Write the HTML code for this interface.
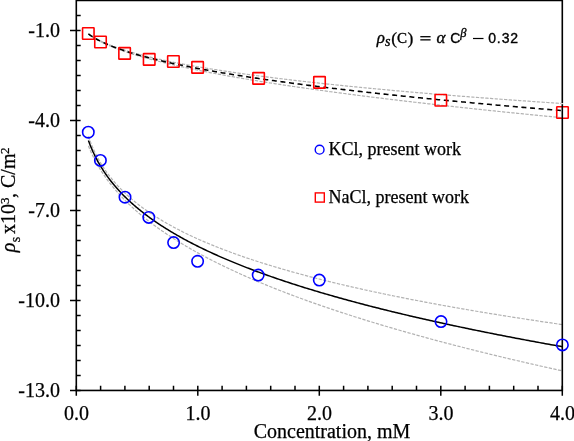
<!DOCTYPE html>
<html><head><meta charset="utf-8"><style>
html,body{margin:0;padding:0;background:#fff;}
svg{display:block;will-change:transform;}
</style></head><body>
<svg width="574" height="441" viewBox="0 0 574 441">
<rect width="574" height="441" fill="#fff"/>
<path d="M88.45,136.39 L88.48,136.48 L88.55,136.68 L88.64,136.94 L88.75,137.26 L88.88,137.63 L89.02,138.05 L89.18,138.50 L89.36,138.99 L89.54,139.51 L89.75,140.06 L89.96,140.64 L90.18,141.24 L90.42,141.87 L90.67,142.51 L90.93,143.17 L91.20,143.85 L91.48,144.55 L91.77,145.26 L92.07,145.98 L92.38,146.71 L92.70,147.46 L93.02,148.21 L93.36,148.97 L93.71,149.74 L94.06,150.52 L94.42,151.30 L94.80,152.08 L95.18,152.87 L95.57,153.67 L95.96,154.46 L96.37,155.26 L96.78,156.07 L97.20,156.87 L97.63,157.68 L98.06,158.48 L98.51,159.29 L98.96,160.09 L99.41,160.90 L99.88,161.71 L100.35,162.51 L100.83,163.32 L101.32,164.12 L101.81,164.92 L102.31,165.72 L102.82,166.52 L103.34,167.31 L103.86,168.11 L104.38,168.90 L104.92,169.69 L105.46,170.48 L106.01,171.26 L106.56,172.04 L107.12,172.82 L107.69,173.60 L108.26,174.37 L108.84,175.14 L109.43,175.91 L110.02,176.67 L110.62,177.43 L111.22,178.19 L111.83,178.94 L112.45,179.69 L113.07,180.44 L113.70,181.18 L114.33,181.93 L114.97,182.66 L115.62,183.40 L116.27,184.13 L116.93,184.86 L117.59,185.58 L118.26,186.30 L118.93,187.02 L119.61,187.73 L120.30,188.44 L120.99,189.15 L121.69,189.86 L122.39,190.56 L123.10,191.25 L123.81,191.95 L124.53,192.64 L125.26,193.33 L125.99,194.01 L126.72,194.69 L127.46,195.37 L128.21,196.04 L128.96,196.72 L129.71,197.38 L130.48,198.05 L131.24,198.71 L132.01,199.37 L132.79,200.03 L133.57,200.68 L134.36,201.33 L135.15,201.97 L135.95,202.62 L136.75,203.26 L137.56,203.90 L138.37,204.53 L139.19,205.16 L140.01,205.79 L140.84,206.42 L141.67,207.04 L142.51,207.66 L143.35,208.28 L144.20,208.89 L145.05,209.50 L145.91,210.11 L146.77,210.72 L147.64,211.32 L148.51,211.92 L149.38,212.52 L150.26,213.11 L151.15,213.71 L152.04,214.30 L152.94,214.88 L153.83,215.47 L154.74,216.05 L155.65,216.63 L156.56,217.21 L157.48,217.78 L158.40,218.35 L159.33,218.92 L160.26,219.49 L161.20,220.06 L162.14,220.62 L163.08,221.18 L164.03,221.74 L164.99,222.29 L165.95,222.85 L166.91,223.40 L167.88,223.95 L168.85,224.49 L169.83,225.04 L170.81,225.58 L171.79,226.12 L172.78,226.66 L173.78,227.19 L174.78,227.72 L175.78,228.26 L176.79,228.79 L177.80,229.31 L178.82,229.84 L179.84,230.36 L180.86,230.88 L181.89,231.40 L182.92,231.92 L183.96,232.43 L185.00,232.94 L186.05,233.46 L187.10,233.96 L188.15,234.47 L189.21,234.98 L190.27,235.48 L191.34,235.98 L192.41,236.48 L193.49,236.98 L194.57,237.47 L195.65,237.97 L196.74,238.46 L197.83,238.95 L198.93,239.44 L200.03,239.93 L201.13,240.41 L202.24,240.90 L203.35,241.38 L204.47,241.86 L205.59,242.34 L206.71,242.81 L207.84,243.29 L208.97,243.76 L210.11,244.23 L211.25,244.70 L212.39,245.17 L213.54,245.64 L214.69,246.10 L215.85,246.57 L217.01,247.03 L218.17,247.49 L219.34,247.95 L220.51,248.40 L221.69,248.86 L222.87,249.31 L224.05,249.77 L225.24,250.22 L226.43,250.67 L227.63,251.12 L228.83,251.56 L230.03,252.01 L231.24,252.45 L232.45,252.90 L233.66,253.34 L234.88,253.78 L236.10,254.21 L237.33,254.65 L238.56,255.09 L239.79,255.52 L241.03,255.95 L242.27,256.39 L243.51,256.82 L244.76,257.24 L246.01,257.67 L247.27,258.10 L248.53,258.52 L249.79,258.95 L251.06,259.37 L252.33,259.79 L253.61,260.21 L254.89,260.63 L256.17,261.05 L257.45,261.46 L258.74,261.88 L260.04,262.29 L261.33,262.70 L262.63,263.11 L263.94,263.52 L265.25,263.93 L266.56,264.34 L267.87,264.75 L269.19,265.15 L270.51,265.55 L271.84,265.96 L273.17,266.36 L274.50,266.76 L275.84,267.16 L277.18,267.56 L278.52,267.95 L279.87,268.35 L281.22,268.75 L282.58,269.14 L283.93,269.53 L285.29,269.92 L286.66,270.31 L288.03,270.70 L289.40,271.09 L290.78,271.48 L292.16,271.87 L293.54,272.25 L294.93,272.64 L296.32,273.02 L297.71,273.40 L299.11,273.78 L300.51,274.16 L301.91,274.54 L303.32,274.92 L304.73,275.30 L306.14,275.67 L307.56,276.05 L308.98,276.42 L310.40,276.80 L311.83,277.17 L313.26,277.54 L314.70,277.91 L316.14,278.28 L317.58,278.65 L319.02,279.02 L320.47,279.38 L321.92,279.75 L323.38,280.11 L324.84,280.48 L326.30,280.84 L327.76,281.20 L329.23,281.56 L330.71,281.92 L332.18,282.28 L333.66,282.64 L335.14,283.00 L336.63,283.36 L338.12,283.71 L339.61,284.07 L341.10,284.42 L342.60,284.78 L344.11,285.13 L345.61,285.48 L347.12,285.83 L348.63,286.18 L350.15,286.53 L351.67,286.88 L353.19,287.22 L354.71,287.57 L356.24,287.92 L357.77,288.26 L359.31,288.61 L360.85,288.95 L362.39,289.29 L363.93,289.63 L365.48,289.98 L367.03,290.32 L368.59,290.66 L370.15,290.99 L371.71,291.33 L373.27,291.67 L374.84,292.01 L376.41,292.34 L377.98,292.68 L379.56,293.01 L381.14,293.34 L382.73,293.68 L384.31,294.01 L385.90,294.34 L387.50,294.67 L389.09,295.00 L390.69,295.33 L392.30,295.66 L393.90,295.98 L395.51,296.31 L397.12,296.64 L398.74,296.96 L400.36,297.29 L401.98,297.61 L403.60,297.94 L405.23,298.26 L406.86,298.58 L408.50,298.90 L410.14,299.22 L411.78,299.54 L413.42,299.86 L415.07,300.18 L416.72,300.50 L418.37,300.81 L420.03,301.13 L421.69,301.45 L423.35,301.76 L425.01,302.08 L426.68,302.39 L428.36,302.70 L430.03,303.02 L431.71,303.33 L433.39,303.64 L435.07,303.95 L436.76,304.26 L438.45,304.57 L440.14,304.88 L441.84,305.19 L443.54,305.50 L445.24,305.80 L446.95,306.11 L448.66,306.41 L450.37,306.72 L452.08,307.02 L453.80,307.33 L455.52,307.63 L457.25,307.93 L458.97,308.24 L460.70,308.54 L462.44,308.84 L464.17,309.14 L465.91,309.44 L467.65,309.74 L469.40,310.04 L471.15,310.34 L472.90,310.63 L474.65,310.93 L476.41,311.23 L478.17,311.52 L479.93,311.82 L481.70,312.11 L483.47,312.41 L485.24,312.70 L487.01,312.99 L488.79,313.29 L490.57,313.58 L492.35,313.87 L494.14,314.16 L495.93,314.45 L497.72,314.74 L499.52,315.03 L501.32,315.32 L503.12,315.61 L504.92,315.90 L506.73,316.18 L508.54,316.47 L510.35,316.76 L512.17,317.04 L513.99,317.33 L515.81,317.61 L517.64,317.89 L519.46,318.18 L521.29,318.46 L523.13,318.74 L524.96,319.03 L526.80,319.31 L528.65,319.59 L530.49,319.87 L532.34,320.15 L534.19,320.43 L536.04,320.71 L537.90,320.99 L539.76,321.26 L541.62,321.54 L543.49,321.82 L545.36,322.10 L547.23,322.37 L549.10,322.65 L550.98,322.92 L552.86,323.20 L554.74,323.47 L556.63,323.75 L558.51,324.02 L560.41,324.29 L562.30,324.56" fill="none" stroke="#b2b2b2" stroke-width="1.2" stroke-dasharray="3.3,1.4"/>
<path d="M88.45,146.02 L88.48,146.10 L88.55,146.26 L88.64,146.49 L88.75,146.76 L88.88,147.08 L89.02,147.44 L89.18,147.83 L89.36,148.25 L89.54,148.70 L89.75,149.18 L89.96,149.68 L90.18,150.20 L90.42,150.74 L90.67,151.31 L90.93,151.89 L91.20,152.49 L91.48,153.10 L91.77,153.73 L92.07,154.37 L92.38,155.02 L92.70,155.69 L93.02,156.36 L93.36,157.04 L93.71,157.74 L94.06,158.44 L94.42,159.15 L94.80,159.86 L95.18,160.58 L95.57,161.31 L95.96,162.04 L96.37,162.78 L96.78,163.52 L97.20,164.27 L97.63,165.02 L98.06,165.77 L98.51,166.53 L98.96,167.28 L99.41,168.04 L99.88,168.81 L100.35,169.57 L100.83,170.33 L101.32,171.10 L101.81,171.87 L102.31,172.64 L102.82,173.41 L103.34,174.17 L103.86,174.94 L104.38,175.71 L104.92,176.48 L105.46,177.25 L106.01,178.02 L106.56,178.79 L107.12,179.56 L107.69,180.33 L108.26,181.09 L108.84,181.86 L109.43,182.63 L110.02,183.39 L110.62,184.15 L111.22,184.92 L111.83,185.68 L112.45,186.44 L113.07,187.20 L113.70,187.95 L114.33,188.71 L114.97,189.46 L115.62,190.22 L116.27,190.97 L116.93,191.72 L117.59,192.47 L118.26,193.21 L118.93,193.96 L119.61,194.70 L120.30,195.44 L120.99,196.19 L121.69,196.92 L122.39,197.66 L123.10,198.40 L123.81,199.13 L124.53,199.86 L125.26,200.59 L125.99,201.32 L126.72,202.05 L127.46,202.77 L128.21,203.49 L128.96,204.22 L129.71,204.94 L130.48,205.65 L131.24,206.37 L132.01,207.08 L132.79,207.79 L133.57,208.50 L134.36,209.21 L135.15,209.92 L135.95,210.63 L136.75,211.33 L137.56,212.03 L138.37,212.73 L139.19,213.43 L140.01,214.12 L140.84,214.82 L141.67,215.51 L142.51,216.20 L143.35,216.89 L144.20,217.58 L145.05,218.26 L145.91,218.94 L146.77,219.63 L147.64,220.31 L148.51,220.98 L149.38,221.66 L150.26,222.34 L151.15,223.01 L152.04,223.68 L152.94,224.35 L153.83,225.02 L154.74,225.68 L155.65,226.35 L156.56,227.01 L157.48,227.67 L158.40,228.33 L159.33,228.99 L160.26,229.65 L161.20,230.30 L162.14,230.95 L163.08,231.61 L164.03,232.26 L164.99,232.90 L165.95,233.55 L166.91,234.20 L167.88,234.84 L168.85,235.48 L169.83,236.12 L170.81,236.76 L171.79,237.40 L172.78,238.03 L173.78,238.67 L174.78,239.30 L175.78,239.93 L176.79,240.56 L177.80,241.19 L178.82,241.82 L179.84,242.44 L180.86,243.07 L181.89,243.69 L182.92,244.31 L183.96,244.93 L185.00,245.55 L186.05,246.16 L187.10,246.78 L188.15,247.39 L189.21,248.01 L190.27,248.62 L191.34,249.23 L192.41,249.83 L193.49,250.44 L194.57,251.05 L195.65,251.65 L196.74,252.25 L197.83,252.86 L198.93,253.46 L200.03,254.05 L201.13,254.65 L202.24,255.25 L203.35,255.84 L204.47,256.44 L205.59,257.03 L206.71,257.62 L207.84,258.21 L208.97,258.80 L210.11,259.39 L211.25,259.97 L212.39,260.56 L213.54,261.14 L214.69,261.72 L215.85,262.30 L217.01,262.88 L218.17,263.46 L219.34,264.04 L220.51,264.62 L221.69,265.19 L222.87,265.77 L224.05,266.34 L225.24,266.91 L226.43,267.48 L227.63,268.05 L228.83,268.62 L230.03,269.19 L231.24,269.75 L232.45,270.32 L233.66,270.88 L234.88,271.44 L236.10,272.00 L237.33,272.56 L238.56,273.12 L239.79,273.68 L241.03,274.24 L242.27,274.80 L243.51,275.35 L244.76,275.90 L246.01,276.46 L247.27,277.01 L248.53,277.56 L249.79,278.11 L251.06,278.66 L252.33,279.21 L253.61,279.75 L254.89,280.30 L256.17,280.84 L257.45,281.39 L258.74,281.93 L260.04,282.47 L261.33,283.01 L262.63,283.55 L263.94,284.09 L265.25,284.63 L266.56,285.16 L267.87,285.70 L269.19,286.23 L270.51,286.77 L271.84,287.30 L273.17,287.83 L274.50,288.36 L275.84,288.89 L277.18,289.42 L278.52,289.95 L279.87,290.48 L281.22,291.00 L282.58,291.53 L283.93,292.05 L285.29,292.58 L286.66,293.10 L288.03,293.62 L289.40,294.14 L290.78,294.66 L292.16,295.18 L293.54,295.70 L294.93,296.22 L296.32,296.73 L297.71,297.25 L299.11,297.76 L300.51,298.28 L301.91,298.79 L303.32,299.30 L304.73,299.81 L306.14,300.32 L307.56,300.83 L308.98,301.34 L310.40,301.85 L311.83,302.36 L313.26,302.86 L314.70,303.37 L316.14,303.87 L317.58,304.38 L319.02,304.88 L320.47,305.38 L321.92,305.89 L323.38,306.39 L324.84,306.89 L326.30,307.39 L327.76,307.88 L329.23,308.38 L330.71,308.88 L332.18,309.37 L333.66,309.87 L335.14,310.36 L336.63,310.86 L338.12,311.35 L339.61,311.84 L341.10,312.33 L342.60,312.82 L344.11,313.31 L345.61,313.80 L347.12,314.29 L348.63,314.78 L350.15,315.27 L351.67,315.75 L353.19,316.24 L354.71,316.72 L356.24,317.21 L357.77,317.69 L359.31,318.17 L360.85,318.66 L362.39,319.14 L363.93,319.62 L365.48,320.10 L367.03,320.58 L368.59,321.06 L370.15,321.53 L371.71,322.01 L373.27,322.49 L374.84,322.96 L376.41,323.44 L377.98,323.91 L379.56,324.39 L381.14,324.86 L382.73,325.33 L384.31,325.80 L385.90,326.28 L387.50,326.75 L389.09,327.22 L390.69,327.68 L392.30,328.15 L393.90,328.62 L395.51,329.09 L397.12,329.55 L398.74,330.02 L400.36,330.49 L401.98,330.95 L403.60,331.41 L405.23,331.88 L406.86,332.34 L408.50,332.80 L410.14,333.26 L411.78,333.72 L413.42,334.19 L415.07,334.64 L416.72,335.10 L418.37,335.56 L420.03,336.02 L421.69,336.48 L423.35,336.93 L425.01,337.39 L426.68,337.85 L428.36,338.30 L430.03,338.75 L431.71,339.21 L433.39,339.66 L435.07,340.11 L436.76,340.57 L438.45,341.02 L440.14,341.47 L441.84,341.92 L443.54,342.37 L445.24,342.82 L446.95,343.27 L448.66,343.71 L450.37,344.16 L452.08,344.61 L453.80,345.05 L455.52,345.50 L457.25,345.94 L458.97,346.39 L460.70,346.83 L462.44,347.28 L464.17,347.72 L465.91,348.16 L467.65,348.60 L469.40,349.04 L471.15,349.49 L472.90,349.93 L474.65,350.37 L476.41,350.80 L478.17,351.24 L479.93,351.68 L481.70,352.12 L483.47,352.56 L485.24,352.99 L487.01,353.43 L488.79,353.86 L490.57,354.30 L492.35,354.73 L494.14,355.17 L495.93,355.60 L497.72,356.03 L499.52,356.47 L501.32,356.90 L503.12,357.33 L504.92,357.76 L506.73,358.19 L508.54,358.62 L510.35,359.05 L512.17,359.48 L513.99,359.91 L515.81,360.33 L517.64,360.76 L519.46,361.19 L521.29,361.61 L523.13,362.04 L524.96,362.47 L526.80,362.89 L528.65,363.32 L530.49,363.74 L532.34,364.16 L534.19,364.59 L536.04,365.01 L537.90,365.43 L539.76,365.85 L541.62,366.27 L543.49,366.69 L545.36,367.11 L547.23,367.53 L549.10,367.95 L550.98,368.37 L552.86,368.79 L554.74,369.21 L556.63,369.63 L558.51,370.04 L560.41,370.46 L562.30,370.88" fill="none" stroke="#b2b2b2" stroke-width="1.2" stroke-dasharray="3.3,1.4"/>
<path d="M88.45,33.86 L88.48,33.88 L88.55,33.93 L88.64,34.00 L88.75,34.08 L88.88,34.17 L89.02,34.27 L89.18,34.39 L89.36,34.51 L89.54,34.64 L89.75,34.79 L89.96,34.93 L90.18,35.09 L90.42,35.25 L90.67,35.41 L90.93,35.59 L91.20,35.76 L91.48,35.94 L91.77,36.13 L92.07,36.32 L92.38,36.51 L92.70,36.71 L93.02,36.91 L93.36,37.12 L93.71,37.32 L94.06,37.53 L94.42,37.74 L94.80,37.96 L95.18,38.17 L95.57,38.39 L95.96,38.61 L96.37,38.83 L96.78,39.05 L97.20,39.28 L97.63,39.50 L98.06,39.73 L98.51,39.95 L98.96,40.18 L99.41,40.41 L99.88,40.64 L100.35,40.87 L100.83,41.10 L101.32,41.34 L101.81,41.57 L102.31,41.80 L102.82,42.03 L103.34,42.27 L103.86,42.50 L104.38,42.73 L104.92,42.97 L105.46,43.20 L106.01,43.44 L106.56,43.67 L107.12,43.90 L107.69,44.14 L108.26,44.37 L108.84,44.61 L109.43,44.84 L110.02,45.07 L110.62,45.31 L111.22,45.54 L111.83,45.78 L112.45,46.01 L113.07,46.24 L113.70,46.47 L114.33,46.71 L114.97,46.94 L115.62,47.17 L116.27,47.40 L116.93,47.63 L117.59,47.86 L118.26,48.09 L118.93,48.32 L119.61,48.55 L120.30,48.78 L120.99,49.01 L121.69,49.24 L122.39,49.46 L123.10,49.69 L123.81,49.92 L124.53,50.15 L125.26,50.37 L125.99,50.60 L126.72,50.82 L127.46,51.05 L128.21,51.27 L128.96,51.49 L129.71,51.72 L130.48,51.94 L131.24,52.16 L132.01,52.38 L132.79,52.61 L133.57,52.83 L134.36,53.05 L135.15,53.27 L135.95,53.49 L136.75,53.71 L137.56,53.92 L138.37,54.14 L139.19,54.36 L140.01,54.58 L140.84,54.79 L141.67,55.01 L142.51,55.23 L143.35,55.44 L144.20,55.65 L145.05,55.87 L145.91,56.08 L146.77,56.30 L147.64,56.51 L148.51,56.72 L149.38,56.93 L150.26,57.14 L151.15,57.35 L152.04,57.56 L152.94,57.77 L153.83,57.98 L154.74,58.19 L155.65,58.40 L156.56,58.61 L157.48,58.81 L158.40,59.02 L159.33,59.23 L160.26,59.43 L161.20,59.64 L162.14,59.84 L163.08,60.05 L164.03,60.25 L164.99,60.46 L165.95,60.66 L166.91,60.86 L167.88,61.06 L168.85,61.27 L169.83,61.47 L170.81,61.67 L171.79,61.87 L172.78,62.07 L173.78,62.27 L174.78,62.47 L175.78,62.66 L176.79,62.86 L177.80,63.06 L178.82,63.26 L179.84,63.45 L180.86,63.65 L181.89,63.85 L182.92,64.04 L183.96,64.24 L185.00,64.43 L186.05,64.63 L187.10,64.82 L188.15,65.01 L189.21,65.21 L190.27,65.40 L191.34,65.59 L192.41,65.78 L193.49,65.97 L194.57,66.16 L195.65,66.35 L196.74,66.54 L197.83,66.73 L198.93,66.92 L200.03,67.11 L201.13,67.30 L202.24,67.49 L203.35,67.68 L204.47,67.86 L205.59,68.05 L206.71,68.24 L207.84,68.42 L208.97,68.61 L210.11,68.79 L211.25,68.98 L212.39,69.16 L213.54,69.35 L214.69,69.53 L215.85,69.71 L217.01,69.90 L218.17,70.08 L219.34,70.26 L220.51,70.44 L221.69,70.62 L222.87,70.80 L224.05,70.98 L225.24,71.17 L226.43,71.34 L227.63,71.52 L228.83,71.70 L230.03,71.88 L231.24,72.06 L232.45,72.24 L233.66,72.42 L234.88,72.59 L236.10,72.77 L237.33,72.95 L238.56,73.12 L239.79,73.30 L241.03,73.48 L242.27,73.65 L243.51,73.83 L244.76,74.00 L246.01,74.17 L247.27,74.35 L248.53,74.52 L249.79,74.70 L251.06,74.87 L252.33,75.04 L253.61,75.21 L254.89,75.39 L256.17,75.56 L257.45,75.73 L258.74,75.90 L260.04,76.07 L261.33,76.24 L262.63,76.41 L263.94,76.58 L265.25,76.75 L266.56,76.92 L267.87,77.09 L269.19,77.25 L270.51,77.42 L271.84,77.59 L273.17,77.76 L274.50,77.93 L275.84,78.09 L277.18,78.26 L278.52,78.42 L279.87,78.59 L281.22,78.76 L282.58,78.92 L283.93,79.09 L285.29,79.25 L286.66,79.42 L288.03,79.58 L289.40,79.74 L290.78,79.91 L292.16,80.07 L293.54,80.23 L294.93,80.40 L296.32,80.56 L297.71,80.72 L299.11,80.88 L300.51,81.04 L301.91,81.20 L303.32,81.36 L304.73,81.52 L306.14,81.69 L307.56,81.85 L308.98,82.00 L310.40,82.16 L311.83,82.32 L313.26,82.48 L314.70,82.64 L316.14,82.80 L317.58,82.96 L319.02,83.12 L320.47,83.27 L321.92,83.43 L323.38,83.59 L324.84,83.74 L326.30,83.90 L327.76,84.06 L329.23,84.21 L330.71,84.37 L332.18,84.52 L333.66,84.68 L335.14,84.83 L336.63,84.99 L338.12,85.14 L339.61,85.30 L341.10,85.45 L342.60,85.60 L344.11,85.76 L345.61,85.91 L347.12,86.06 L348.63,86.21 L350.15,86.37 L351.67,86.52 L353.19,86.67 L354.71,86.82 L356.24,86.97 L357.77,87.12 L359.31,87.27 L360.85,87.42 L362.39,87.58 L363.93,87.73 L365.48,87.87 L367.03,88.02 L368.59,88.17 L370.15,88.32 L371.71,88.47 L373.27,88.62 L374.84,88.77 L376.41,88.92 L377.98,89.06 L379.56,89.21 L381.14,89.36 L382.73,89.51 L384.31,89.65 L385.90,89.80 L387.50,89.95 L389.09,90.09 L390.69,90.24 L392.30,90.38 L393.90,90.53 L395.51,90.67 L397.12,90.82 L398.74,90.96 L400.36,91.11 L401.98,91.25 L403.60,91.40 L405.23,91.54 L406.86,91.68 L408.50,91.83 L410.14,91.97 L411.78,92.11 L413.42,92.26 L415.07,92.40 L416.72,92.54 L418.37,92.68 L420.03,92.83 L421.69,92.97 L423.35,93.11 L425.01,93.25 L426.68,93.39 L428.36,93.53 L430.03,93.67 L431.71,93.81 L433.39,93.95 L435.07,94.09 L436.76,94.23 L438.45,94.37 L440.14,94.51 L441.84,94.65 L443.54,94.79 L445.24,94.93 L446.95,95.07 L448.66,95.20 L450.37,95.34 L452.08,95.48 L453.80,95.62 L455.52,95.76 L457.25,95.89 L458.97,96.03 L460.70,96.17 L462.44,96.30 L464.17,96.44 L465.91,96.58 L467.65,96.71 L469.40,96.85 L471.15,96.98 L472.90,97.12 L474.65,97.25 L476.41,97.39 L478.17,97.52 L479.93,97.66 L481.70,97.79 L483.47,97.93 L485.24,98.06 L487.01,98.19 L488.79,98.33 L490.57,98.46 L492.35,98.59 L494.14,98.73 L495.93,98.86 L497.72,98.99 L499.52,99.13 L501.32,99.26 L503.12,99.39 L504.92,99.52 L506.73,99.65 L508.54,99.78 L510.35,99.92 L512.17,100.05 L513.99,100.18 L515.81,100.31 L517.64,100.44 L519.46,100.57 L521.29,100.70 L523.13,100.83 L524.96,100.96 L526.80,101.09 L528.65,101.22 L530.49,101.35 L532.34,101.48 L534.19,101.61 L536.04,101.74 L537.90,101.86 L539.76,101.99 L541.62,102.12 L543.49,102.25 L545.36,102.38 L547.23,102.50 L549.10,102.63 L550.98,102.76 L552.86,102.89 L554.74,103.01 L556.63,103.14 L558.51,103.27 L560.41,103.39 L562.30,103.52" fill="none" stroke="#b2b2b2" stroke-width="1.2" stroke-dasharray="3.3,1.4"/>
<path d="M88.45,34.04 L88.48,34.06 L88.55,34.11 L88.64,34.18 L88.75,34.26 L88.88,34.36 L89.02,34.47 L89.18,34.59 L89.36,34.72 L89.54,34.86 L89.75,35.00 L89.96,35.16 L90.18,35.32 L90.42,35.49 L90.67,35.66 L90.93,35.84 L91.20,36.02 L91.48,36.21 L91.77,36.41 L92.07,36.61 L92.38,36.81 L92.70,37.02 L93.02,37.23 L93.36,37.44 L93.71,37.66 L94.06,37.88 L94.42,38.10 L94.80,38.32 L95.18,38.55 L95.57,38.78 L95.96,39.01 L96.37,39.24 L96.78,39.48 L97.20,39.72 L97.63,39.95 L98.06,40.19 L98.51,40.43 L98.96,40.67 L99.41,40.92 L99.88,41.16 L100.35,41.41 L100.83,41.65 L101.32,41.90 L101.81,42.14 L102.31,42.39 L102.82,42.64 L103.34,42.89 L103.86,43.14 L104.38,43.39 L104.92,43.64 L105.46,43.89 L106.01,44.14 L106.56,44.39 L107.12,44.64 L107.69,44.89 L108.26,45.14 L108.84,45.39 L109.43,45.64 L110.02,45.89 L110.62,46.15 L111.22,46.40 L111.83,46.65 L112.45,46.90 L113.07,47.15 L113.70,47.40 L114.33,47.65 L114.97,47.90 L115.62,48.15 L116.27,48.40 L116.93,48.65 L117.59,48.91 L118.26,49.16 L118.93,49.40 L119.61,49.65 L120.30,49.90 L120.99,50.15 L121.69,50.40 L122.39,50.65 L123.10,50.90 L123.81,51.15 L124.53,51.39 L125.26,51.64 L125.99,51.89 L126.72,52.14 L127.46,52.38 L128.21,52.63 L128.96,52.87 L129.71,53.12 L130.48,53.37 L131.24,53.61 L132.01,53.86 L132.79,54.10 L133.57,54.34 L134.36,54.59 L135.15,54.83 L135.95,55.07 L136.75,55.32 L137.56,55.56 L138.37,55.80 L139.19,56.04 L140.01,56.28 L140.84,56.53 L141.67,56.77 L142.51,57.01 L143.35,57.25 L144.20,57.49 L145.05,57.73 L145.91,57.96 L146.77,58.20 L147.64,58.44 L148.51,58.68 L149.38,58.92 L150.26,59.15 L151.15,59.39 L152.04,59.63 L152.94,59.86 L153.83,60.10 L154.74,60.34 L155.65,60.57 L156.56,60.81 L157.48,61.04 L158.40,61.27 L159.33,61.51 L160.26,61.74 L161.20,61.97 L162.14,62.21 L163.08,62.44 L164.03,62.67 L164.99,62.90 L165.95,63.14 L166.91,63.37 L167.88,63.60 L168.85,63.83 L169.83,64.06 L170.81,64.29 L171.79,64.52 L172.78,64.75 L173.78,64.98 L174.78,65.20 L175.78,65.43 L176.79,65.66 L177.80,65.89 L178.82,66.12 L179.84,66.34 L180.86,66.57 L181.89,66.80 L182.92,67.02 L183.96,67.25 L185.00,67.47 L186.05,67.70 L187.10,67.92 L188.15,68.15 L189.21,68.37 L190.27,68.60 L191.34,68.82 L192.41,69.04 L193.49,69.27 L194.57,69.49 L195.65,69.71 L196.74,69.93 L197.83,70.15 L198.93,70.38 L200.03,70.60 L201.13,70.82 L202.24,71.04 L203.35,71.26 L204.47,71.48 L205.59,71.70 L206.71,71.92 L207.84,72.14 L208.97,72.36 L210.11,72.58 L211.25,72.80 L212.39,73.01 L213.54,73.23 L214.69,73.45 L215.85,73.67 L217.01,73.88 L218.17,74.10 L219.34,74.32 L220.51,74.53 L221.69,74.75 L222.87,74.97 L224.05,75.18 L225.24,75.40 L226.43,75.61 L227.63,75.83 L228.83,76.04 L230.03,76.26 L231.24,76.47 L232.45,76.69 L233.66,76.90 L234.88,77.11 L236.10,77.33 L237.33,77.54 L238.56,77.75 L239.79,77.96 L241.03,78.18 L242.27,78.39 L243.51,78.60 L244.76,78.81 L246.01,79.02 L247.27,79.23 L248.53,79.45 L249.79,79.66 L251.06,79.87 L252.33,80.08 L253.61,80.29 L254.89,80.50 L256.17,80.71 L257.45,80.92 L258.74,81.12 L260.04,81.33 L261.33,81.54 L262.63,81.75 L263.94,81.96 L265.25,82.17 L266.56,82.37 L267.87,82.58 L269.19,82.79 L270.51,83.00 L271.84,83.20 L273.17,83.41 L274.50,83.62 L275.84,83.82 L277.18,84.03 L278.52,84.24 L279.87,84.44 L281.22,84.65 L282.58,84.85 L283.93,85.06 L285.29,85.26 L286.66,85.47 L288.03,85.67 L289.40,85.88 L290.78,86.08 L292.16,86.29 L293.54,86.49 L294.93,86.69 L296.32,86.90 L297.71,87.10 L299.11,87.30 L300.51,87.51 L301.91,87.71 L303.32,87.91 L304.73,88.11 L306.14,88.32 L307.56,88.52 L308.98,88.72 L310.40,88.92 L311.83,89.12 L313.26,89.32 L314.70,89.52 L316.14,89.73 L317.58,89.93 L319.02,90.13 L320.47,90.33 L321.92,90.53 L323.38,90.73 L324.84,90.93 L326.30,91.13 L327.76,91.33 L329.23,91.53 L330.71,91.73 L332.18,91.92 L333.66,92.12 L335.14,92.32 L336.63,92.52 L338.12,92.72 L339.61,92.92 L341.10,93.12 L342.60,93.31 L344.11,93.51 L345.61,93.71 L347.12,93.91 L348.63,94.10 L350.15,94.30 L351.67,94.50 L353.19,94.69 L354.71,94.89 L356.24,95.09 L357.77,95.28 L359.31,95.48 L360.85,95.68 L362.39,95.87 L363.93,96.07 L365.48,96.26 L367.03,96.46 L368.59,96.65 L370.15,96.85 L371.71,97.04 L373.27,97.24 L374.84,97.43 L376.41,97.63 L377.98,97.82 L379.56,98.02 L381.14,98.21 L382.73,98.41 L384.31,98.60 L385.90,98.79 L387.50,98.99 L389.09,99.18 L390.69,99.37 L392.30,99.57 L393.90,99.76 L395.51,99.95 L397.12,100.15 L398.74,100.34 L400.36,100.53 L401.98,100.72 L403.60,100.91 L405.23,101.11 L406.86,101.30 L408.50,101.49 L410.14,101.68 L411.78,101.87 L413.42,102.07 L415.07,102.26 L416.72,102.45 L418.37,102.64 L420.03,102.83 L421.69,103.02 L423.35,103.21 L425.01,103.40 L426.68,103.59 L428.36,103.78 L430.03,103.97 L431.71,104.16 L433.39,104.35 L435.07,104.54 L436.76,104.73 L438.45,104.92 L440.14,105.11 L441.84,105.30 L443.54,105.49 L445.24,105.68 L446.95,105.87 L448.66,106.06 L450.37,106.25 L452.08,106.43 L453.80,106.62 L455.52,106.81 L457.25,107.00 L458.97,107.19 L460.70,107.38 L462.44,107.56 L464.17,107.75 L465.91,107.94 L467.65,108.13 L469.40,108.31 L471.15,108.50 L472.90,108.69 L474.65,108.88 L476.41,109.06 L478.17,109.25 L479.93,109.44 L481.70,109.62 L483.47,109.81 L485.24,110.00 L487.01,110.18 L488.79,110.37 L490.57,110.56 L492.35,110.74 L494.14,110.93 L495.93,111.11 L497.72,111.30 L499.52,111.49 L501.32,111.67 L503.12,111.86 L504.92,112.04 L506.73,112.23 L508.54,112.41 L510.35,112.60 L512.17,112.78 L513.99,112.97 L515.81,113.15 L517.64,113.34 L519.46,113.52 L521.29,113.71 L523.13,113.89 L524.96,114.07 L526.80,114.26 L528.65,114.44 L530.49,114.63 L532.34,114.81 L534.19,114.99 L536.04,115.18 L537.90,115.36 L539.76,115.54 L541.62,115.73 L543.49,115.91 L545.36,116.09 L547.23,116.28 L549.10,116.46 L550.98,116.64 L552.86,116.83 L554.74,117.01 L556.63,117.19 L558.51,117.37 L560.41,117.56 L562.30,117.74" fill="none" stroke="#b2b2b2" stroke-width="1.2" stroke-dasharray="3.3,1.4"/>
<path d="M88.45,140.55 L88.48,140.65 L88.55,140.83 L88.64,141.08 L88.75,141.38 L88.88,141.73 L89.02,142.12 L89.18,142.55 L89.36,143.01 L89.54,143.51 L89.75,144.03 L89.96,144.58 L90.18,145.15 L90.42,145.74 L90.67,146.36 L90.93,146.99 L91.20,147.64 L91.48,148.30 L91.77,148.98 L92.07,149.67 L92.38,150.38 L92.70,151.09 L93.02,151.82 L93.36,152.55 L93.71,153.30 L94.06,154.05 L94.42,154.80 L94.80,155.56 L95.18,156.33 L95.57,157.10 L95.96,157.88 L96.37,158.66 L96.78,159.45 L97.20,160.23 L97.63,161.02 L98.06,161.81 L98.51,162.61 L98.96,163.40 L99.41,164.19 L99.88,164.99 L100.35,165.79 L100.83,166.58 L101.32,167.38 L101.81,168.17 L102.31,168.97 L102.82,169.76 L103.34,170.56 L103.86,171.35 L104.38,172.14 L104.92,172.93 L105.46,173.72 L106.01,174.51 L106.56,175.29 L107.12,176.08 L107.69,176.86 L108.26,177.64 L108.84,178.42 L109.43,179.19 L110.02,179.97 L110.62,180.74 L111.22,181.51 L111.83,182.28 L112.45,183.04 L113.07,183.80 L113.70,184.56 L114.33,185.32 L114.97,186.08 L115.62,186.83 L116.27,187.58 L116.93,188.33 L117.59,189.07 L118.26,189.81 L118.93,190.55 L119.61,191.29 L120.30,192.02 L120.99,192.76 L121.69,193.49 L122.39,194.21 L123.10,194.94 L123.81,195.66 L124.53,196.38 L125.26,197.09 L125.99,197.80 L126.72,198.52 L127.46,199.22 L128.21,199.93 L128.96,200.63 L129.71,201.33 L130.48,202.03 L131.24,202.72 L132.01,203.42 L132.79,204.11 L133.57,204.79 L134.36,205.48 L135.15,206.16 L135.95,206.84 L136.75,207.52 L137.56,208.19 L138.37,208.86 L139.19,209.53 L140.01,210.20 L140.84,210.86 L141.67,211.53 L142.51,212.19 L143.35,212.84 L144.20,213.50 L145.05,214.15 L145.91,214.80 L146.77,215.45 L147.64,216.09 L148.51,216.74 L149.38,217.38 L150.26,218.02 L151.15,218.65 L152.04,219.29 L152.94,219.92 L153.83,220.55 L154.74,221.18 L155.65,221.80 L156.56,222.42 L157.48,223.04 L158.40,223.66 L159.33,224.28 L160.26,224.89 L161.20,225.51 L162.14,226.12 L163.08,226.72 L164.03,227.33 L164.99,227.93 L165.95,228.54 L166.91,229.14 L167.88,229.73 L168.85,230.33 L169.83,230.92 L170.81,231.52 L171.79,232.11 L172.78,232.69 L173.78,233.28 L174.78,233.86 L175.78,234.45 L176.79,235.03 L177.80,235.61 L178.82,236.18 L179.84,236.76 L180.86,237.33 L181.89,237.90 L182.92,238.47 L183.96,239.04 L185.00,239.61 L186.05,240.17 L187.10,240.73 L188.15,241.29 L189.21,241.85 L190.27,242.41 L191.34,242.96 L192.41,243.52 L193.49,244.07 L194.57,244.62 L195.65,245.17 L196.74,245.72 L197.83,246.26 L198.93,246.81 L200.03,247.35 L201.13,247.89 L202.24,248.43 L203.35,248.96 L204.47,249.50 L205.59,250.03 L206.71,250.57 L207.84,251.10 L208.97,251.63 L210.11,252.16 L211.25,252.68 L212.39,253.21 L213.54,253.73 L214.69,254.25 L215.85,254.78 L217.01,255.29 L218.17,255.81 L219.34,256.33 L220.51,256.84 L221.69,257.36 L222.87,257.87 L224.05,258.38 L225.24,258.89 L226.43,259.40 L227.63,259.90 L228.83,260.41 L230.03,260.91 L231.24,261.42 L232.45,261.92 L233.66,262.42 L234.88,262.92 L236.10,263.41 L237.33,263.91 L238.56,264.40 L239.79,264.90 L241.03,265.39 L242.27,265.88 L243.51,266.37 L244.76,266.86 L246.01,267.35 L247.27,267.83 L248.53,268.32 L249.79,268.80 L251.06,269.28 L252.33,269.76 L253.61,270.24 L254.89,270.72 L256.17,271.20 L257.45,271.68 L258.74,272.15 L260.04,272.63 L261.33,273.10 L262.63,273.57 L263.94,274.04 L265.25,274.51 L266.56,274.98 L267.87,275.44 L269.19,275.91 L270.51,276.38 L271.84,276.84 L273.17,277.30 L274.50,277.76 L275.84,278.22 L277.18,278.68 L278.52,279.14 L279.87,279.60 L281.22,280.06 L282.58,280.51 L283.93,280.97 L285.29,281.42 L286.66,281.87 L288.03,282.32 L289.40,282.77 L290.78,283.22 L292.16,283.67 L293.54,284.12 L294.93,284.56 L296.32,285.01 L297.71,285.45 L299.11,285.89 L300.51,286.34 L301.91,286.78 L303.32,287.22 L304.73,287.66 L306.14,288.10 L307.56,288.53 L308.98,288.97 L310.40,289.40 L311.83,289.84 L313.26,290.27 L314.70,290.70 L316.14,291.14 L317.58,291.57 L319.02,292.00 L320.47,292.43 L321.92,292.85 L323.38,293.28 L324.84,293.71 L326.30,294.13 L327.76,294.56 L329.23,294.98 L330.71,295.40 L332.18,295.83 L333.66,296.25 L335.14,296.67 L336.63,297.09 L338.12,297.51 L339.61,297.92 L341.10,298.34 L342.60,298.76 L344.11,299.17 L345.61,299.59 L347.12,300.00 L348.63,300.41 L350.15,300.82 L351.67,301.23 L353.19,301.65 L354.71,302.05 L356.24,302.46 L357.77,302.87 L359.31,303.28 L360.85,303.68 L362.39,304.09 L363.93,304.49 L365.48,304.90 L367.03,305.30 L368.59,305.70 L370.15,306.11 L371.71,306.51 L373.27,306.91 L374.84,307.31 L376.41,307.71 L377.98,308.10 L379.56,308.50 L381.14,308.90 L382.73,309.29 L384.31,309.69 L385.90,310.08 L387.50,310.47 L389.09,310.87 L390.69,311.26 L392.30,311.65 L393.90,312.04 L395.51,312.43 L397.12,312.82 L398.74,313.21 L400.36,313.60 L401.98,313.98 L403.60,314.37 L405.23,314.76 L406.86,315.14 L408.50,315.53 L410.14,315.91 L411.78,316.29 L413.42,316.68 L415.07,317.06 L416.72,317.44 L418.37,317.82 L420.03,318.20 L421.69,318.58 L423.35,318.96 L425.01,319.33 L426.68,319.71 L428.36,320.09 L430.03,320.46 L431.71,320.84 L433.39,321.21 L435.07,321.59 L436.76,321.96 L438.45,322.33 L440.14,322.70 L441.84,323.08 L443.54,323.45 L445.24,323.82 L446.95,324.19 L448.66,324.56 L450.37,324.92 L452.08,325.29 L453.80,325.66 L455.52,326.02 L457.25,326.39 L458.97,326.76 L460.70,327.12 L462.44,327.48 L464.17,327.85 L465.91,328.21 L467.65,328.57 L469.40,328.94 L471.15,329.30 L472.90,329.66 L474.65,330.02 L476.41,330.38 L478.17,330.74 L479.93,331.09 L481.70,331.45 L483.47,331.81 L485.24,332.17 L487.01,332.52 L488.79,332.88 L490.57,333.23 L492.35,333.59 L494.14,333.94 L495.93,334.29 L497.72,334.65 L499.52,335.00 L501.32,335.35 L503.12,335.70 L504.92,336.05 L506.73,336.40 L508.54,336.75 L510.35,337.10 L512.17,337.45 L513.99,337.80 L515.81,338.15 L517.64,338.49 L519.46,338.84 L521.29,339.18 L523.13,339.53 L524.96,339.87 L526.80,340.22 L528.65,340.56 L530.49,340.91 L532.34,341.25 L534.19,341.59 L536.04,341.93 L537.90,342.27 L539.76,342.62 L541.62,342.96 L543.49,343.30 L545.36,343.64 L547.23,343.97 L549.10,344.31 L550.98,344.65 L552.86,344.99 L554.74,345.32 L556.63,345.66 L558.51,346.00 L560.41,346.33 L562.30,346.67" fill="none" stroke="#000" stroke-width="1.5"/>
<path d="M88.45,33.95 L88.48,33.97 L88.55,34.02 L88.64,34.09 L88.75,34.17 L88.88,34.27 L89.02,34.37 L89.18,34.49 L89.36,34.62 L89.54,34.75 L89.75,34.89 L89.96,35.05 L90.18,35.20 L90.42,35.37 L90.67,35.54 L90.93,35.71 L91.20,35.89 L91.48,36.08 L91.77,36.27 L92.07,36.46 L92.38,36.66 L92.70,36.86 L93.02,37.07 L93.36,37.28 L93.71,37.49 L94.06,37.70 L94.42,37.92 L94.80,38.14 L95.18,38.36 L95.57,38.59 L95.96,38.81 L96.37,39.04 L96.78,39.27 L97.20,39.50 L97.63,39.73 L98.06,39.96 L98.51,40.19 L98.96,40.43 L99.41,40.66 L99.88,40.90 L100.35,41.14 L100.83,41.38 L101.32,41.62 L101.81,41.86 L102.31,42.10 L102.82,42.34 L103.34,42.58 L103.86,42.82 L104.38,43.06 L104.92,43.30 L105.46,43.54 L106.01,43.79 L106.56,44.03 L107.12,44.27 L107.69,44.51 L108.26,44.76 L108.84,45.00 L109.43,45.24 L110.02,45.48 L110.62,45.73 L111.22,45.97 L111.83,46.21 L112.45,46.45 L113.07,46.70 L113.70,46.94 L114.33,47.18 L114.97,47.42 L115.62,47.66 L116.27,47.90 L116.93,48.14 L117.59,48.38 L118.26,48.62 L118.93,48.86 L119.61,49.10 L120.30,49.34 L120.99,49.58 L121.69,49.82 L122.39,50.06 L123.10,50.30 L123.81,50.53 L124.53,50.77 L125.26,51.01 L125.99,51.24 L126.72,51.48 L127.46,51.71 L128.21,51.95 L128.96,52.18 L129.71,52.42 L130.48,52.65 L131.24,52.89 L132.01,53.12 L132.79,53.35 L133.57,53.59 L134.36,53.82 L135.15,54.05 L135.95,54.28 L136.75,54.51 L137.56,54.74 L138.37,54.97 L139.19,55.20 L140.01,55.43 L140.84,55.66 L141.67,55.89 L142.51,56.12 L143.35,56.34 L144.20,56.57 L145.05,56.80 L145.91,57.02 L146.77,57.25 L147.64,57.47 L148.51,57.70 L149.38,57.92 L150.26,58.15 L151.15,58.37 L152.04,58.60 L152.94,58.82 L153.83,59.04 L154.74,59.26 L155.65,59.49 L156.56,59.71 L157.48,59.93 L158.40,60.15 L159.33,60.37 L160.26,60.59 L161.20,60.81 L162.14,61.03 L163.08,61.24 L164.03,61.46 L164.99,61.68 L165.95,61.90 L166.91,62.11 L167.88,62.33 L168.85,62.55 L169.83,62.76 L170.81,62.98 L171.79,63.19 L172.78,63.41 L173.78,63.62 L174.78,63.84 L175.78,64.05 L176.79,64.26 L177.80,64.47 L178.82,64.69 L179.84,64.90 L180.86,65.11 L181.89,65.32 L182.92,65.53 L183.96,65.74 L185.00,65.95 L186.05,66.16 L187.10,66.37 L188.15,66.58 L189.21,66.79 L190.27,67.00 L191.34,67.20 L192.41,67.41 L193.49,67.62 L194.57,67.83 L195.65,68.03 L196.74,68.24 L197.83,68.44 L198.93,68.65 L200.03,68.85 L201.13,69.06 L202.24,69.26 L203.35,69.47 L204.47,69.67 L205.59,69.87 L206.71,70.08 L207.84,70.28 L208.97,70.48 L210.11,70.68 L211.25,70.89 L212.39,71.09 L213.54,71.29 L214.69,71.49 L215.85,71.69 L217.01,71.89 L218.17,72.09 L219.34,72.29 L220.51,72.49 L221.69,72.69 L222.87,72.89 L224.05,73.08 L225.24,73.28 L226.43,73.48 L227.63,73.68 L228.83,73.87 L230.03,74.07 L231.24,74.27 L232.45,74.46 L233.66,74.66 L234.88,74.85 L236.10,75.05 L237.33,75.24 L238.56,75.44 L239.79,75.63 L241.03,75.83 L242.27,76.02 L243.51,76.21 L244.76,76.41 L246.01,76.60 L247.27,76.79 L248.53,76.98 L249.79,77.18 L251.06,77.37 L252.33,77.56 L253.61,77.75 L254.89,77.94 L256.17,78.13 L257.45,78.32 L258.74,78.51 L260.04,78.70 L261.33,78.89 L262.63,79.08 L263.94,79.27 L265.25,79.46 L266.56,79.65 L267.87,79.83 L269.19,80.02 L270.51,80.21 L271.84,80.40 L273.17,80.58 L274.50,80.77 L275.84,80.96 L277.18,81.14 L278.52,81.33 L279.87,81.52 L281.22,81.70 L282.58,81.89 L283.93,82.07 L285.29,82.26 L286.66,82.44 L288.03,82.63 L289.40,82.81 L290.78,82.99 L292.16,83.18 L293.54,83.36 L294.93,83.54 L296.32,83.73 L297.71,83.91 L299.11,84.09 L300.51,84.27 L301.91,84.46 L303.32,84.64 L304.73,84.82 L306.14,85.00 L307.56,85.18 L308.98,85.36 L310.40,85.54 L311.83,85.72 L313.26,85.90 L314.70,86.08 L316.14,86.26 L317.58,86.44 L319.02,86.62 L320.47,86.80 L321.92,86.98 L323.38,87.16 L324.84,87.34 L326.30,87.51 L327.76,87.69 L329.23,87.87 L330.71,88.05 L332.18,88.22 L333.66,88.40 L335.14,88.58 L336.63,88.75 L338.12,88.93 L339.61,89.11 L341.10,89.28 L342.60,89.46 L344.11,89.63 L345.61,89.81 L347.12,89.98 L348.63,90.16 L350.15,90.33 L351.67,90.51 L353.19,90.68 L354.71,90.86 L356.24,91.03 L357.77,91.20 L359.31,91.38 L360.85,91.55 L362.39,91.72 L363.93,91.90 L365.48,92.07 L367.03,92.24 L368.59,92.41 L370.15,92.59 L371.71,92.76 L373.27,92.93 L374.84,93.10 L376.41,93.27 L377.98,93.44 L379.56,93.61 L381.14,93.79 L382.73,93.96 L384.31,94.13 L385.90,94.30 L387.50,94.47 L389.09,94.64 L390.69,94.81 L392.30,94.97 L393.90,95.14 L395.51,95.31 L397.12,95.48 L398.74,95.65 L400.36,95.82 L401.98,95.99 L403.60,96.16 L405.23,96.32 L406.86,96.49 L408.50,96.66 L410.14,96.83 L411.78,96.99 L413.42,97.16 L415.07,97.33 L416.72,97.49 L418.37,97.66 L420.03,97.83 L421.69,97.99 L423.35,98.16 L425.01,98.33 L426.68,98.49 L428.36,98.66 L430.03,98.82 L431.71,98.99 L433.39,99.15 L435.07,99.32 L436.76,99.48 L438.45,99.65 L440.14,99.81 L441.84,99.98 L443.54,100.14 L445.24,100.30 L446.95,100.47 L448.66,100.63 L450.37,100.79 L452.08,100.96 L453.80,101.12 L455.52,101.28 L457.25,101.45 L458.97,101.61 L460.70,101.77 L462.44,101.93 L464.17,102.10 L465.91,102.26 L467.65,102.42 L469.40,102.58 L471.15,102.74 L472.90,102.90 L474.65,103.06 L476.41,103.23 L478.17,103.39 L479.93,103.55 L481.70,103.71 L483.47,103.87 L485.24,104.03 L487.01,104.19 L488.79,104.35 L490.57,104.51 L492.35,104.67 L494.14,104.83 L495.93,104.99 L497.72,105.15 L499.52,105.31 L501.32,105.46 L503.12,105.62 L504.92,105.78 L506.73,105.94 L508.54,106.10 L510.35,106.26 L512.17,106.41 L513.99,106.57 L515.81,106.73 L517.64,106.89 L519.46,107.05 L521.29,107.20 L523.13,107.36 L524.96,107.52 L526.80,107.67 L528.65,107.83 L530.49,107.99 L532.34,108.14 L534.19,108.30 L536.04,108.46 L537.90,108.61 L539.76,108.77 L541.62,108.92 L543.49,109.08 L545.36,109.24 L547.23,109.39 L549.10,109.55 L550.98,109.70 L552.86,109.86 L554.74,110.01 L556.63,110.17 L558.51,110.32 L560.41,110.47 L562.30,110.63" fill="none" stroke="#000" stroke-width="1.55" stroke-dasharray="5.0,3.655"/>
<rect x="82.55" y="27.75" width="11.5" height="11.5" rx="0.4" fill="none" stroke="#ff0000" stroke-width="1.6"/>
<rect x="94.75" y="36.25" width="11.5" height="11.5" rx="0.4" fill="none" stroke="#ff0000" stroke-width="1.6"/>
<rect x="118.85" y="47.65" width="11.5" height="11.5" rx="0.4" fill="none" stroke="#ff0000" stroke-width="1.6"/>
<rect x="143.45" y="53.65" width="11.5" height="11.5" rx="0.4" fill="none" stroke="#ff0000" stroke-width="1.6"/>
<rect x="167.65" y="55.75" width="11.5" height="11.5" rx="0.4" fill="none" stroke="#ff0000" stroke-width="1.6"/>
<rect x="191.85" y="61.65" width="11.5" height="11.5" rx="0.4" fill="none" stroke="#ff0000" stroke-width="1.6"/>
<rect x="252.85" y="72.65" width="11.5" height="11.5" rx="0.4" fill="none" stroke="#ff0000" stroke-width="1.6"/>
<rect x="313.75" y="76.65" width="11.5" height="11.5" rx="0.4" fill="none" stroke="#ff0000" stroke-width="1.6"/>
<rect x="435.05" y="94.45" width="11.5" height="11.5" rx="0.4" fill="none" stroke="#ff0000" stroke-width="1.6"/>
<rect x="556.75" y="106.75" width="11.5" height="11.5" rx="0.4" fill="none" stroke="#ff0000" stroke-width="1.6"/>
<rect x="76.3" y="0.45" width="486.0" height="390.0" fill="none" stroke="#000" stroke-width="1.6"/>
<path d="M76.30,15.45H80.70M70.00,30.45H80.60M76.30,45.45H80.70M76.30,60.45H80.70M76.30,75.45H80.70M76.30,90.45H80.70M76.30,105.45H80.70M70.00,120.45H80.60M76.30,135.45H80.70M76.30,150.45H80.70M76.30,165.45H80.70M76.30,180.45H80.70M76.30,195.45H80.70M70.00,210.45H80.60M76.30,225.45H80.70M76.30,240.45H80.70M76.30,255.45H80.70M76.30,270.45H80.70M76.30,285.45H80.70M70.00,300.45H80.60M76.30,315.45H80.70M76.30,330.45H80.70M76.30,345.45H80.70M76.30,360.45H80.70M76.30,375.45H80.70M70.00,390.45H80.60M76.30,385.75V395.85M100.60,390.45V385.75M124.90,390.45V385.75M149.20,390.45V385.75M173.50,390.45V385.75M197.80,385.75V395.85M222.10,390.45V385.75M246.40,390.45V385.75M270.70,390.45V385.75M295.00,390.45V385.75M319.30,385.75V395.85M343.60,390.45V385.75M367.90,390.45V385.75M392.20,390.45V385.75M416.50,390.45V385.75M440.80,385.75V395.85M465.10,390.45V385.75M489.40,390.45V385.75M513.70,390.45V385.75M538.00,390.45V385.75M562.30,385.75V395.85" fill="none" stroke="#000" stroke-width="1.5"/>
<rect x="561" y="103.2" width="2.6" height="1" fill="#fff"/>
<circle cx="88.3" cy="132.2" r="5.7" fill="none" stroke="#0000ff" stroke-width="1.6"/>
<circle cx="100.4" cy="160.4" r="5.7" fill="none" stroke="#0000ff" stroke-width="1.6"/>
<circle cx="125" cy="197.2" r="5.7" fill="none" stroke="#0000ff" stroke-width="1.6"/>
<circle cx="148.8" cy="217.4" r="5.7" fill="none" stroke="#0000ff" stroke-width="1.6"/>
<circle cx="173.6" cy="242.6" r="5.7" fill="none" stroke="#0000ff" stroke-width="1.6"/>
<circle cx="197.6" cy="261.3" r="5.7" fill="none" stroke="#0000ff" stroke-width="1.6"/>
<circle cx="258.2" cy="275.1" r="5.7" fill="none" stroke="#0000ff" stroke-width="1.6"/>
<circle cx="319.3" cy="280.1" r="5.7" fill="none" stroke="#0000ff" stroke-width="1.6"/>
<circle cx="441" cy="321.6" r="5.7" fill="none" stroke="#0000ff" stroke-width="1.6"/>
<circle cx="562.4" cy="344.9" r="5.7" fill="none" stroke="#0000ff" stroke-width="1.6"/>
<circle cx="319.6" cy="149.7" r="4.4" fill="none" stroke="#0000ff" stroke-width="1.4"/>
<rect x="315.3" y="192.9" width="9" height="9.2" fill="none" stroke="#ff0000" stroke-width="1.4"/>
<text x="60" y="37.45" text-anchor="end" font-size="20" font-family="Liberation Serif, serif" stroke="#000" stroke-width="0.25">-1.0</text>
<text x="60" y="127.45" text-anchor="end" font-size="20" font-family="Liberation Serif, serif" stroke="#000" stroke-width="0.25">-4.0</text>
<text x="60" y="217.45" text-anchor="end" font-size="20" font-family="Liberation Serif, serif" stroke="#000" stroke-width="0.25">-7.0</text>
<text x="60" y="307.45" text-anchor="end" font-size="20" font-family="Liberation Serif, serif" stroke="#000" stroke-width="0.25">-10.0</text>
<text x="60" y="397.45" text-anchor="end" font-size="20" font-family="Liberation Serif, serif" stroke="#000" stroke-width="0.25">-13.0</text>
<text x="76.60" y="419.8" text-anchor="middle" font-size="20" font-family="Liberation Serif, serif" stroke="#000" stroke-width="0.25">0.0</text>
<text x="198.10" y="419.8" text-anchor="middle" font-size="20" font-family="Liberation Serif, serif" stroke="#000" stroke-width="0.25">1.0</text>
<text x="319.60" y="419.8" text-anchor="middle" font-size="20" font-family="Liberation Serif, serif" stroke="#000" stroke-width="0.25">2.0</text>
<text x="441.10" y="419.8" text-anchor="middle" font-size="20" font-family="Liberation Serif, serif" stroke="#000" stroke-width="0.25">3.0</text>
<text x="562.60" y="419.8" text-anchor="middle" font-size="20" font-family="Liberation Serif, serif" stroke="#000" stroke-width="0.25">4.0</text>
<text x="332" y="438" text-anchor="middle" font-size="20" font-family="Liberation Serif, serif" stroke="#000" stroke-width="0.25">Concentration, mM</text>
<text x="328.5" y="154.6" font-size="18" font-family="Liberation Serif, serif" stroke="#000" stroke-width="0.25">KCl, present work</text>
<text x="328.5" y="202.7" font-size="18" font-family="Liberation Serif, serif" stroke="#000" stroke-width="0.25">NaCl, present work</text>
<g transform="translate(15.3,253.8) rotate(-90)"><text x="1.6" y="0" font-size="20" font-style="italic" font-family="Liberation Serif, serif" stroke="#000" stroke-width="0.25">ρ</text><text x="11.6" y="4.3" font-size="14" font-family="Liberation Serif, serif" stroke="#000" stroke-width="0.25">s</text><text x="19.7" y="0" font-size="20" font-family="Liberation Serif, serif" stroke="#000" stroke-width="0.25">x10</text><text x="49.7" y="-6.1" font-size="13" font-family="Liberation Serif, serif" stroke="#000" stroke-width="0.25">3</text><text x="55.8" y="0" font-size="20" font-family="Liberation Serif, serif" stroke="#000" stroke-width="0.25">, C/m</text><text x="99.9" y="-6.1" font-size="13" font-family="Liberation Serif, serif" stroke="#000" stroke-width="0.25">2</text></g>
<text x="376.8" y="43.3" font-size="17" font-family="Liberation Serif, serif" font-style="italic" stroke="#000" stroke-width="0.35">ρ</text>
<text x="385.0" y="46.4" font-size="14" font-family="Liberation Serif, serif" font-style="italic" stroke="#000" stroke-width="0.35">s</text>
<text x="391.3" y="43.8" font-size="17.5" font-family="Liberation Serif, serif" stroke="#000" stroke-width="0.3">(</text>
<text x="397.0" y="43.3" font-size="15" font-family="Liberation Serif, serif" stroke="#000" stroke-width="0.35">C</text>
<text x="407.6" y="43.8" font-size="17.5" font-family="Liberation Serif, serif" stroke="#000" stroke-width="0.3">)</text>
<rect x="420.3" y="36.05" width="10.3" height="1.3" fill="#000"/>
<rect x="420.3" y="39.2" width="10.3" height="1.3" fill="#000"/>
<text x="436.5" y="43.3" font-size="17" font-family="Liberation Serif, serif" font-style="italic" stroke="#000" stroke-width="0.35">α</text>
<text x="450.2" y="43.3" font-size="14" font-family="Liberation Sans, sans-serif" stroke="#000" stroke-width="0.35">C</text>
<text x="460.2" y="37.3" font-size="12.5" font-family="Liberation Serif, serif" font-style="italic" stroke="#000" stroke-width="0.35">β</text>
<rect x="473" y="37.9" width="10.5" height="1.2" fill="#000"/>
<text x="488.2" y="43.3" font-size="14" letter-spacing="0.9" font-family="Liberation Sans, sans-serif" stroke="#000" stroke-width="0.35">0.32</text>
</svg>
</body></html>
